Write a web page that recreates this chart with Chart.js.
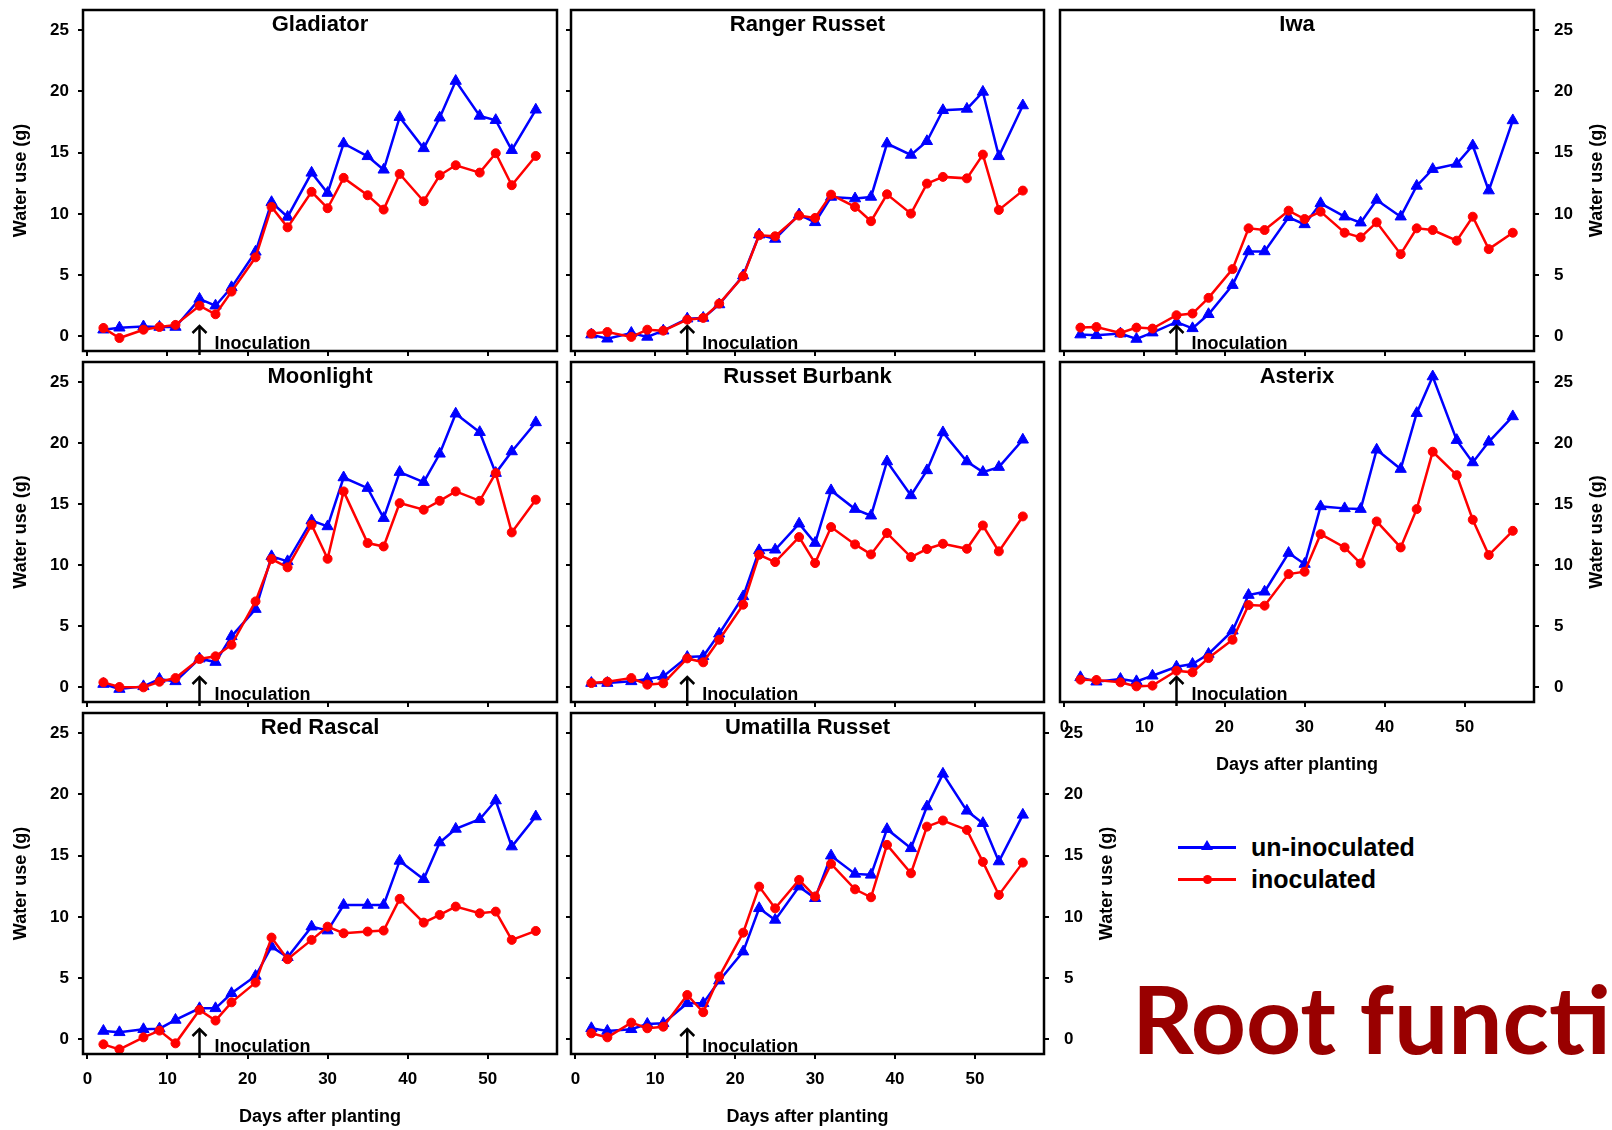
<!DOCTYPE html>
<html>
<head>
<meta charset="utf-8">
<title>Water use after inoculation</title>
<script src="https://cdn.jsdelivr.net/npm/chart.js@4.4.1/dist/chart.umd.min.js"></script>
<style>
    html, body { margin: 0; padding: 0; background: #fff; overflow: hidden; }
    body { width: 1612px; height: 1130px; position: relative; }
    canvas { position: absolute; }
    .legend-row { position: absolute; left: 1178px; height: 32px; font: bold 25px "Liberation Sans", Arial, sans-serif; color: #000; }
    .legend-line { position: absolute; left: 0; top: 15px; width: 58px; height: 2.5px; }
    .legend-text { position: absolute; left: 73px; top: 0; line-height: 32px; white-space: nowrap; }
    .marker-tri { position: absolute; left: 23px; top: 9px; width: 0; height: 0; border-left: 6px solid transparent; border-right: 6px solid transparent; border-bottom: 10px solid; }
    .marker-dot { position: absolute; left: 24.5px; top: 12px; width: 9px; height: 9px; border-radius: 50%; }
    #slideTitle { position: absolute; left: 1132px; top: 972px; font: 700 93px Lato, "Open Sans", sans-serif; line-height: 93px; color: #990000; white-space: nowrap; transform-origin: 0 0; }
</style>
</head>
<body>
<div id="slideTitle">Root functi</div>
<script>
// ---- data ----
const days = [2, 4, 7, 9, 11, 14, 16, 18, 21, 23, 25, 28, 30, 32, 35, 37, 39, 42, 44, 46, 49, 51, 53, 56];
const xTicks = [0, 10, 20, 30, 40, 50];
const yTicks = [0, 5, 10, 15, 20, 25];
const cultivars = ['Gladiator', 'Ranger Russet', 'Iwa', 'Moonlight', 'Russet Burbank', 'Asterix', 'Red Rascal', 'Umatilla Russet'];
const seriesNames = ['un-inoculated', 'inoculated'];
const inoculationDay = 14;
const xTitle = 'Days after planting';
const yTitle = 'Water use (g)';
const noteText = 'Inoculation';

const gladiatorUn = [0.54, 0.7, 0.8, 0.76, 0.76, 3.05, 2.5, 4.0, 6.9, 10.95, 9.75, 13.35, 11.7, 15.75, 14.7, 13.6, 17.9, 15.35, 17.85, 20.85, 18.0, 17.65, 15.2, 18.5];
const gladiatorIn = [0.68, -0.14, 0.54, 0.76, 0.93, 2.5, 1.8, 3.65, 6.45, 10.57, 8.9, 11.8, 10.46, 12.94, 11.52, 10.35, 13.26, 11.03, 13.15, 13.97, 13.37, 14.95, 12.34, 14.73];

const rangerUn = [0.14, -0.2, 0.27, -0.05, 0.46, 1.44, 1.5, 2.6, 4.96, 8.3, 7.95, 9.94, 9.31, 11.38, 11.25, 11.38, 15.74, 14.81, 15.93, 18.46, 18.57, 19.96, 14.7, 18.85];
const rangerIn = [0.22, 0.35, -0.05, 0.54, 0.46, 1.36, 1.5, 2.67, 4.9, 8.25, 8.17, 9.86, 9.67, 11.57, 10.57, 9.4, 11.6, 10.02, 12.47, 13.02, 12.9, 14.84, 10.32, 11.9];

const iwaUn = [0.14, 0.08, 0.22, -0.22, 0.3, 1.17, 0.65, 1.8, 4.18, 6.93, 6.93, 9.72, 9.14, 10.86, 9.77, 9.28, 11.14, 9.77, 12.28, 13.65, 14.08, 15.58, 11.9, 17.63];
const iwaIn = [0.71, 0.76, 0.27, 0.71, 0.63, 1.72, 1.86, 3.14, 5.49, 8.82, 8.68, 10.26, 9.58, 10.18, 8.46, 8.08, 9.31, 6.71, 8.82, 8.68, 7.81, 9.77, 7.12, 8.46];

const moonlightUn = [0.27, -0.14, 0.08, 0.68, 0.49, 2.35, 2.07, 4.18, 6.41, 10.73, 10.32, 13.67, 13.18, 17.19, 16.32, 13.86, 17.63, 16.81, 19.13, 22.41, 20.9, 17.55, 19.32, 21.7];
const moonlightIn = [0.41, 0.03, 0, 0.46, 0.76, 2.32, 2.54, 3.49, 7.04, 10.51, 9.83, 13.32, 10.53, 16.05, 11.82, 11.54, 15.09, 14.55, 15.28, 16.05, 15.28, 17.55, 12.69, 15.37];

const burbankUn = [0.35, 0.35, 0.49, 0.68, 0.9, 2.48, 2.54, 4.39, 7.45, 11.22, 11.27, 13.4, 11.82, 16.13, 14.6, 14.06, 18.5, 15.72, 17.77, 20.88, 18.5, 17.63, 18.04, 20.28];
const burbankIn = [0.35, 0.46, 0.76, 0.22, 0.33, 2.37, 2.05, 3.9, 6.77, 10.86, 10.26, 12.31, 10.18, 13.13, 11.71, 10.89, 12.64, 10.67, 11.33, 11.76, 11.35, 13.26, 11.14, 14.0];

const asterixUn = [0.82, 0.46, 0.68, 0.49, 0.95, 1.69, 1.91, 2.73, 4.64, 7.56, 7.83, 11.0, 10.1, 14.82, 14.66, 14.6, 19.46, 17.88, 22.46, 25.46, 20.25, 18.42, 20.11, 22.19];
const asterixIn = [0.63, 0.6, 0.41, 0.08, 0.14, 1.36, 1.23, 2.4, 3.9, 6.74, 6.69, 9.28, 9.47, 12.55, 11.46, 10.15, 13.59, 11.46, 14.6, 19.3, 17.38, 13.73, 10.84, 12.82];

const rascalUn = [0.68, 0.57, 0.82, 0.87, 1.58, 2.53, 2.53, 3.76, 5.17, 7.57, 6.7, 9.2, 8.88, 10.97, 10.97, 10.97, 14.57, 13.07, 16.07, 17.18, 17.97, 19.5, 15.74, 18.19];
const rascalIn = [-0.41, -0.82, 0.16, 0.71, -0.33, 2.4, 1.53, 3.02, 4.63, 8.31, 6.54, 8.12, 9.2, 8.66, 8.8, 8.88, 11.47, 9.53, 10.16, 10.84, 10.29, 10.43, 8.12, 8.85];

const umatillaUn = [0.9, 0.68, 0.82, 1.25, 1.31, 2.94, 2.94, 4.79, 7.16, 10.7, 9.75, 12.47, 11.52, 15.0, 13.51, 13.43, 17.16, 15.6, 19.01, 21.68, 18.66, 17.65, 14.52, 18.33];
const umatillaIn = [0.49, 0.16, 1.36, 0.9, 1.03, 3.62, 2.21, 5.12, 8.71, 12.47, 10.7, 13.02, 11.66, 14.33, 12.25, 11.6, 15.88, 13.56, 17.37, 17.87, 17.1, 14.49, 11.79, 14.43];

// ---- layout ----
const xMin = -0.55, xMax = 58.65;
const yMin = -1.2, yMax = 26.65;
const colLeft = [83, 571, 1060];
const colWidth = [474, 473, 474];
const rowTop = [10, 362, 713];
const rowHeight = [341, 340, 341];
const ML = 85, MR = 80, MT = 10, MB = 85, TICK = 5;
const FONT = '"Liberation Sans", Arial, sans-serif';
const BLUE = '#0000ff', RED = '#ff0000';

// left/right: null = no axis, 'ticks' = tick marks only, 'labels' = ticks + numbers
const panels = [
    { un: gladiatorUn, inoc: gladiatorIn, col: 0, row: 0, left: 'labels', right: null, xLabels: false },
    { un: rangerUn, inoc: rangerIn, col: 1, row: 0, left: 'ticks', right: null, xLabels: false },
    { un: iwaUn, inoc: iwaIn, col: 2, row: 0, left: null, right: 'labels', xLabels: false },
    { un: moonlightUn, inoc: moonlightIn, col: 0, row: 1, left: 'labels', right: null, xLabels: false },
    { un: burbankUn, inoc: burbankIn, col: 1, row: 1, left: 'ticks', right: null, xLabels: false },
    { un: asterixUn, inoc: asterixIn, col: 2, row: 1, left: null, right: 'labels', xLabels: true },
    { un: rascalUn, inoc: rascalIn, col: 0, row: 2, left: 'labels', right: null, xLabels: true },
    { un: umatillaUn, inoc: umatillaIn, col: 1, row: 2, left: 'ticks', right: 'labels', xLabels: true }
];

Chart.defaults.font.family = FONT;
Chart.defaults.color = '#000';

const tickGrid = { drawOnChartArea: false, drawTicks: true, tickLength: TICK, tickWidth: 2, tickColor: '#000', color: '#000', lineWidth: 2 };

// labels may hang over the box edges, so the box must not shrink for them
function noOverhang(s) {
    s.paddingTop = 0;
    s.paddingBottom = 0;
    s.paddingLeft = 0;
    s.paddingRight = 0;
}

function yAxis(position, mode) {
    const labeled = mode === 'labels';
    return {
        type: 'linear',
        position: position,
        min: yMin,
        max: yMax,
        afterBuildTicks: s => { s.ticks = yTicks.map(v => ({ value: v })); },
        afterFit: s => {
            s.width = labeled ? (position === 'left' ? ML : MR) : TICK + 1;
            noOverhang(s);
        },
        grid: tickGrid,
        border: { display: false },
        ticks: { display: labeled, autoSkip: false, padding: position === 'left' ? 9 : 15, font: { size: 17, weight: 'bold' }, color: '#000' },
        title: { display: labeled && position === 'left', text: yTitle, color: '#000', font: { size: 18, weight: 'bold' }, padding: { top: 12, bottom: 0 } }
    };
}

function xAxis(labeled) {
    return {
        type: 'linear',
        position: 'bottom',
        min: xMin,
        max: xMax,
        afterBuildTicks: s => { s.ticks = xTicks.map(v => ({ value: v })); },
        afterFit: s => {
            s.height = labeled ? MB : TICK + 1;
            noOverhang(s);
        },
        grid: tickGrid,
        border: { display: false },
        ticks: { display: labeled, autoSkip: false, maxRotation: 0, padding: 10, font: { size: 17, weight: 'bold' }, color: '#000' },
        title: { display: labeled, text: xTitle, color: '#000', font: { size: 18, weight: 'bold' }, padding: { top: 0, bottom: 11 } }
    };
}

// box, cultivar name, inoculation arrow, right-hand axis title
const panelDecor = {
    id: 'panelDecor',
    afterDraw(chart, args, opts) {
        const { ctx, chartArea: a, scales } = chart;
        ctx.save();
        ctx.strokeStyle = '#000';
        ctx.fillStyle = '#000';
        ctx.lineWidth = 2.5;
        ctx.strokeRect(a.left, a.top, a.right - a.left, a.bottom - a.top);

        ctx.font = 'bold 22px ' + FONT;
        ctx.textAlign = 'center';
        ctx.textBaseline = 'alphabetic';
        ctx.fillText(opts.title, (a.left + a.right) / 2, a.top + 21);

        const ax = scales.x.getPixelForValue(inoculationDay);
        const tipY = a.bottom - 25;
        ctx.lineWidth = 2.5;
        ctx.beginPath();
        ctx.moveTo(ax, a.bottom + 4);
        ctx.lineTo(ax, tipY);
        ctx.stroke();
        ctx.beginPath();
        ctx.moveTo(ax - 7, tipY + 7);
        ctx.lineTo(ax, tipY);
        ctx.lineTo(ax + 7, tipY + 7);
        ctx.stroke();
        ctx.font = 'bold 18px ' + FONT;
        ctx.textAlign = 'left';
        ctx.fillText(noteText, ax + 15, a.bottom - 2.5);

        if (opts.rightTitle) {
            ctx.translate(a.right + 63, (a.top + a.bottom) / 2);
            ctx.rotate(-Math.PI / 2);
            ctx.textAlign = 'center';
            ctx.textBaseline = 'middle';
            ctx.fillText(yTitle, 0, 0);
        }
        ctx.restore();
    }
};

function makePanel(p, idx) {
    const left = colLeft[p.col], top = rowTop[p.row];
    const w = colWidth[p.col], h = rowHeight[p.row];
    const canvas = document.createElement('canvas');
    canvas.width = w + ML + MR;
    canvas.height = h + MT + MB;
    canvas.style.left = (left - ML) + 'px';
    canvas.style.top = (top - MT) + 'px';
    document.body.appendChild(canvas);

    const scales = { x: xAxis(p.xLabels) };
    let leftW = 0, rightW = 0;
    if (p.left) {
        scales.y = yAxis('left', p.left);
        leftW = p.left === 'labels' ? ML : TICK + 1;
        if (p.right) {
            scales.y2 = yAxis('right', p.right);
            rightW = p.right === 'labels' ? MR : TICK + 1;
        }
    } else if (p.right) {
        scales.y = yAxis('right', p.right);
        rightW = p.right === 'labels' ? MR : TICK + 1;
    }
    const xH = p.xLabels ? MB : TICK + 1;

    return new Chart(canvas.getContext('2d'), {
        type: 'line',
        data: {
            datasets: [
                {
                    label: seriesNames[1],
                    data: days.map((d, k) => ({ x: d, y: p.inoc[k] })),
                    yAxisID: 'y',
                    borderColor: RED,
                    backgroundColor: RED,
                    pointBorderColor: RED,
                    pointBackgroundColor: RED,
                    borderWidth: 2.5,
                    pointStyle: 'circle',
                    pointRadius: 4.5,
                    pointBorderWidth: 1,
                    clip: false
                },
                {
                    label: seriesNames[0],
                    data: days.map((d, k) => ({ x: d, y: p.un[k] })),
                    yAxisID: 'y',
                    borderColor: BLUE,
                    backgroundColor: BLUE,
                    pointBorderColor: BLUE,
                    pointBackgroundColor: BLUE,
                    borderWidth: 2.5,
                    pointStyle: 'triangle',
                    pointRadius: 6.5,
                    pointBorderWidth: 1,
                    clip: false
                }
            ]
        },
        options: {
            responsive: false,
            animation: false,
            devicePixelRatio: 1,
            events: [],
            layout: { padding: { left: ML - leftW, right: MR - rightW, top: MT, bottom: MB - xH } },
            scales: scales,
            plugins: {
                legend: { display: false },
                tooltip: { enabled: false },
                panelDecor: { title: cultivars[idx], rightTitle: p.right === 'labels' }
            }
        },
        plugins: [panelDecor]
    });
}

panels.forEach(makePanel);

// legend
const seriesColors = [BLUE, RED];
const seriesMarkers = ['marker-tri', 'marker-dot'];
const legendY = [831, 863];
seriesNames.forEach((name, i) => {
    const row = document.createElement('div');
    row.className = 'legend-row';
    row.style.top = legendY[i] + 'px';
    const line = document.createElement('div');
    line.className = 'legend-line';
    line.style.background = seriesColors[i];
    const mark = document.createElement('div');
    mark.className = seriesMarkers[i];
    if (i === 0) mark.style.borderBottomColor = seriesColors[i];
    else mark.style.background = seriesColors[i];
    const txt = document.createElement('div');
    txt.className = 'legend-text';
    txt.textContent = name;
    row.appendChild(line);
    row.appendChild(mark);
    row.appendChild(txt);
    document.body.appendChild(row);
});

// squeeze the slide heading to the narrow width it has in the picture
const heading = document.getElementById('slideTitle');
const mctx = document.createElement('canvas').getContext('2d');
mctx.font = '700 93px Lato, "Open Sans", sans-serif';
const k = 453 / mctx.measureText('Root funct').width;
heading.style.transform = 'scaleX(' + k.toFixed(3) + ')';
</script>
</body>
</html>
